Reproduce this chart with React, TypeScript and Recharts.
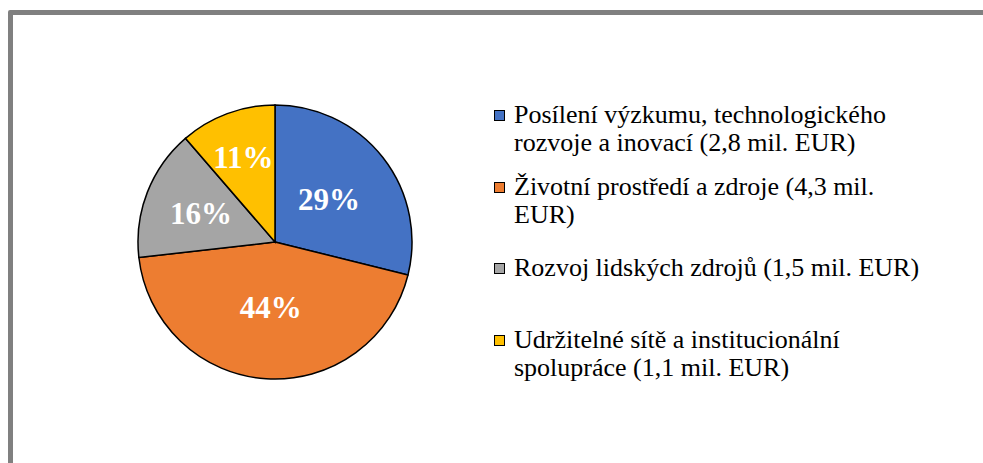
import { PieChart, Pie, Cell, Legend } from "recharts"

const categories = [
  "Posílení výzkumu, technologického\nrozvoje a inovací (2,8 mil. EUR)",
  "Životní prostředí a zdroje (4,3 mil.\nEUR)",
  "Rozvoj lidských zdrojů (1,5 mil. EUR)",
  "Udržitelné sítě a institucionální\nspolupráce (1,1 mil. EUR)",
]
const values = [2.8, 4.3, 1.5, 1.1]
const percentLabels = ["29%", "44%", "16%", "11%"]
const colors = ["#4472C4", "#ED7D31", "#A5A5A5", "#FFC000"]

const chartData = categories.map((name, i) => ({ name, value: values[i] }))

const FONT = '"Liberation Serif", "Times New Roman", serif'
// how far out each label sits, as a share of the radius
const labelRadius = [0.5, 0.48, 0.58, 0.66]
const legendGaps = [0, 16, 25, 44]

const RAD = Math.PI / 180

function renderLabel(props: any) {
  const { cx, cy, midAngle, outerRadius, index } = props
  const d = outerRadius * labelRadius[index]
  const x = cx + d * Math.cos(-midAngle * RAD)
  const y = cy + d * Math.sin(-midAngle * RAD)
  return (
    <text
      x={x}
      y={y}
      fill="#fff"
      textAnchor="middle"
      dominantBaseline="central"
      fontFamily={FONT}
      fontWeight="bold"
      fontSize={31}
    >
      {percentLabels[index]}
    </text>
  )
}

function renderLegend(props: any) {
  const payload = [...(props.payload || [])].sort(
    (a: any, b: any) => categories.indexOf(a.value) - categories.indexOf(b.value)
  )
  return (
    <div style={{ fontFamily: FONT, fontSize: 26, color: "#000" }}>
      {payload.map((entry: any, i: number) => (
        <div key={i} style={{ display: "flex", alignItems: "flex-start", marginTop: legendGaps[i] }}>
          <div
            style={{
              width: 9,
              height: 9,
              border: "1px solid #000",
              background: entry.color,
              marginTop: 9,
              marginRight: 9,
              flexShrink: 0,
            }}
          />
          <div style={{ lineHeight: "28px", whiteSpace: "pre", fontFamily: FONT }}>{entry.value}</div>
        </div>
      ))}
    </div>
  )
}

export default function App() {
  return (
    <div style={{ position: "fixed", left: 0, top: 0, width: 983, height: 463, overflow: "hidden", background: "#fff" }}>
      <div
        style={{
          position: "absolute",
          left: 8,
          top: 10,
          width: 1000,
          height: 480,
          border: "5px solid #808080",
          borderRadius: 2,
        }}
      />
      <div style={{ position: "absolute", left: 0, top: 0 }}>
        <PieChart width={983} height={463} margin={{ top: 0, right: 0, bottom: 0, left: 0 }}>
          <Pie
            data={chartData}
            dataKey="value"
            nameKey="name"
            cx={275}
            cy={242}
            outerRadius={137}
            startAngle={90}
            endAngle={-270}
            stroke="#000"
            strokeWidth={1.5}
            label={renderLabel}
            labelLine={false}
            isAnimationActive={false}
          >
            {chartData.map((_, i) => (
              <Cell key={i} fill={colors[i]} />
            ))}
          </Pie>
          <Legend
            layout="vertical"
            verticalAlign="top"
            align="right"
            content={renderLegend}
            wrapperStyle={{ left: 494, top: 101, width: 480 }}
          />
        </PieChart>
      </div>
    </div>
  )
}
